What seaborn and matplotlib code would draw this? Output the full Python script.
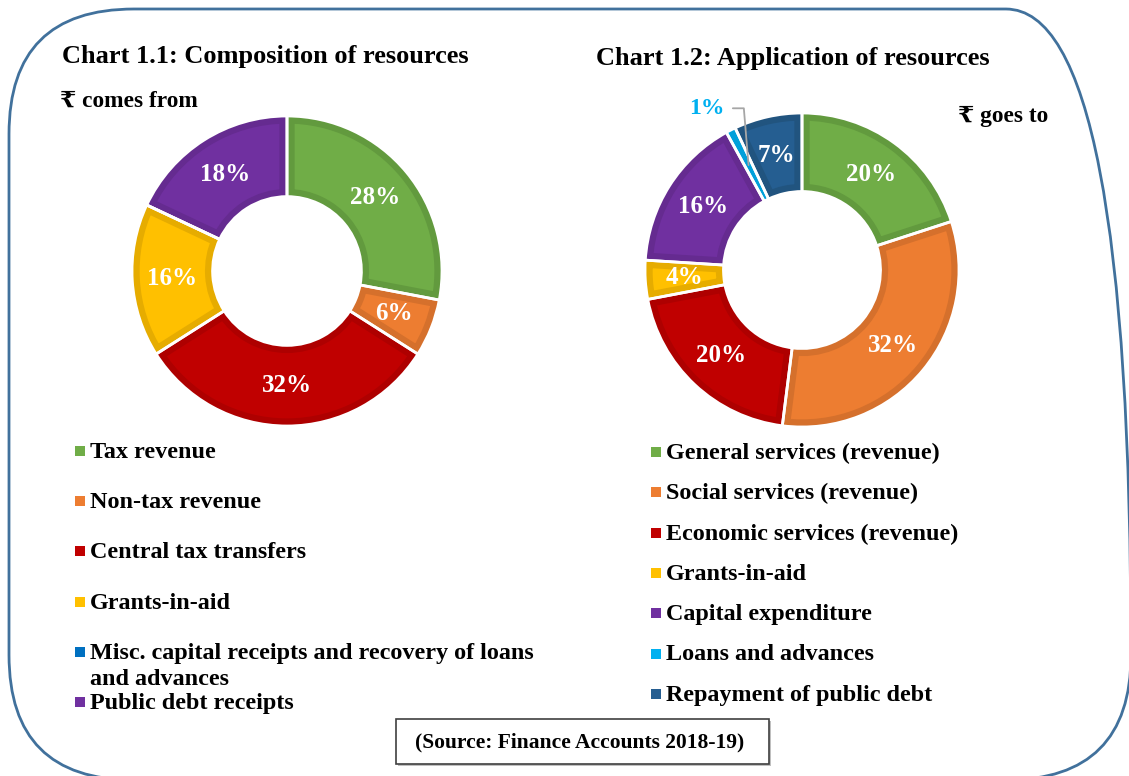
import matplotlib
matplotlib.use("Agg")
import matplotlib.pyplot as plt
import seaborn as sns
import numpy as np
from matplotlib.patches import FancyBboxPatch, Rectangle, Wedge
from matplotlib.transforms import Affine2D

sns.set_theme(style="white")
plt.rcParams['font.family'] = ['Liberation Serif', 'DejaVu Serif', 'DejaVu Sans']
plt.rcParams['font.weight'] = 'bold'
plt.rcParams['text.color'] = 'black'

W, H = 1129, 776

# Chart 1.1 data
src_labels = ["Tax revenue", "Non-tax revenue", "Central tax transfers", "Grants-in-aid",
              "Misc. capital receipts and recovery of loans\nand advances", "Public debt receipts"]
src_values = [28, 6, 32, 16, 0, 18]
src_colors = ["#70AD47", "#ED7D31", "#C00000", "#FFC000", "#0070C0", "#7030A0"]
src_edges = ["#629A3E", "#D5702C", "#AE0000", "#E6AC00", "#0065AD", "#652B90"]

# Chart 1.2 data
app_labels = ["General services (revenue)", "Social services (revenue)", "Economic services (revenue)",
              "Grants-in-aid", "Capital expenditure", "Loans and advances", "Repayment of public debt"]
app_values = [20, 32, 20, 4, 16, 1, 7]
app_colors = ["#70AD47", "#ED7D31", "#C00000", "#FFC000", "#7030A0", "#00B0F0", "#255E91"]
app_edges = ["#629A3E", "#D5702C", "#AE0000", "#E6AC00", "#652B90", "#00A0DA", "#21547F"]

fig = plt.figure(figsize=(W / 100, H / 100), dpi=100)
px = Affine2D().scale(1, -1).translate(0, H)  # pixel coords, origin top-left


def donut(cx, cy, r, width, values, colors, edges):
    pad = 1.04
    ax = fig.add_axes([(cx - r * pad) / W, 1 - (cy + r * pad) / H, 2 * r * pad / W, 2 * r * pad / H])
    wedges, _, autotexts = ax.pie(
        values, colors=colors, startangle=90, counterclock=False, radius=1,
        wedgeprops=dict(width=width, linewidth=0),
        autopct=lambda p: f"{p:.0f}%" if p >= 2 else "", pctdistance=1 - width / 2,
        textprops=dict(color="white", fontsize=18, fontweight="bold"))
    for w, ec in zip(wedges, edges):
        inner = Wedge(w.center, w.r, w.theta1, w.theta2, width=w.width, facecolor="none",
                      edgecolor=ec, linewidth=11, zorder=2)
        ax.add_patch(inner)
        inner.set_clip_path(w)
        sep = Wedge(w.center, w.r, w.theta1, w.theta2, width=w.width, facecolor="none",
                    edgecolor="white", linewidth=2, zorder=3)
        ax.add_patch(sep)
    for t in autotexts:
        t.set_zorder(4)
    ax.set_xlim(-pad, pad)
    ax.set_ylim(-pad, pad)
    ax.set_aspect("equal")
    ax.axis("off")
    return ax, wedges


def legend(x, y0, step, labels, colors):
    for i, (lab, c) in enumerate(zip(labels, colors)):
        y = y0 + i * step
        fig.add_artist(Rectangle((x, y - 5), 10, 10, facecolor=c, edgecolor="none", transform=px))
        for j, line in enumerate(lab.split("\n")):
            fig.text((x + 15) / W, 1 - (y + 7 + 26 * j) / H, line, fontsize=17.4,
                     fontweight="bold", va="baseline", ha="left")


# frame
fig.add_artist(FancyBboxPatch((9, -4), 1122, 771, boxstyle="round,pad=0,rounding_size=125",
                              facecolor="none", edgecolor="#41719C", linewidth=2,
                              transform=Affine2D()))

fig.text(62 / W, 1 - 57 / H, "Chart 1.1: Composition of resources", fontsize=19,
         fontweight="bold", va="center", ha="left")
fig.text(596 / W, 1 - 59 / H, "Chart 1.2: Application of resources", fontsize=19,
         fontweight="bold", va="center", ha="left")
fig.text(60 / W, 1 - 101 / H, "₹ comes from", fontsize=16.8, fontweight="bold", va="center", ha="left")
fig.text(958 / W, 1 - 116 / H, "₹ goes to", fontsize=16.8, fontweight="bold", va="center", ha="left")

ax1, _ = donut(287, 271, 155, 0.52, src_values, src_colors, src_edges)
ax2, wedges2 = donut(802, 270, 157, 0.5, app_values, app_colors, app_edges)

# leader label for the small slice
idx = app_values.index(min(app_values))
w = wedges2[idx]
mid = np.deg2rad((w.theta1 + w.theta2) / 2)
rr = 1 - 0.5 / 2
lx, ly = rr * np.cos(mid), rr * np.sin(mid)
ty = 1.03
ax2.plot([lx, lx - 0.03, lx - 0.1], [ly, ty, ty], color="#A6A6A6", lw=1.3,
         clip_on=False, zorder=5)
ax2.text(lx - 0.15, ty, f"{app_values[idx]}%", color=app_colors[idx], fontsize=17,
         fontweight="bold", ha="right", va="center")

legend(75, 451, 50.2, src_labels, src_colors)
legend(651, 452, 40.3, app_labels, app_colors)

# source box with a faint shadow
fig.add_artist(Rectangle((398, 721), 373, 45, facecolor="#BFBFBF", edgecolor="none", transform=px))
fig.add_artist(Rectangle((396, 719), 373, 45, facecolor="white", edgecolor="#404040",
                         linewidth=1.2, transform=px))
fig.text(580 / W, 1 - 742 / H, "(Source: Finance Accounts 2018-19)", fontsize=15.5,
         fontweight="bold", ha="center", va="center")

fig.savefig("out.png", dpi=100)
